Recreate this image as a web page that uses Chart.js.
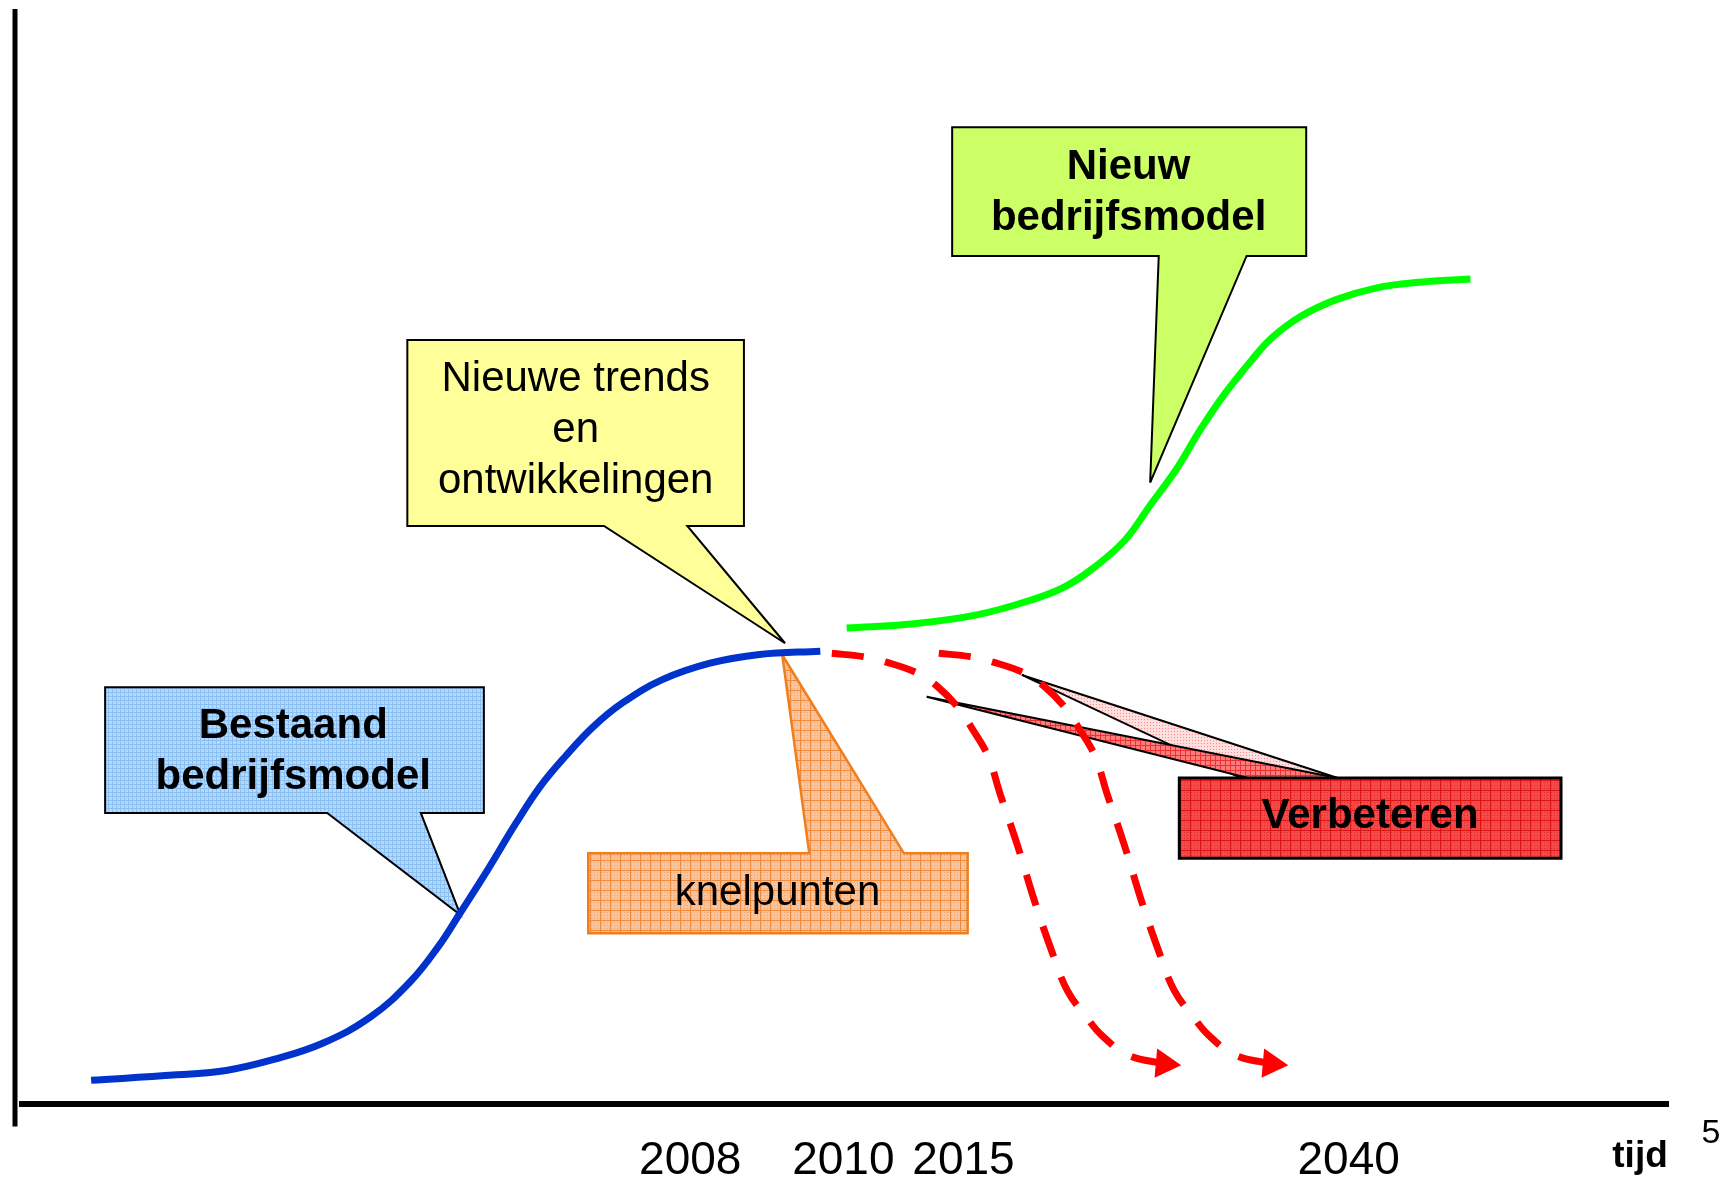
<!DOCTYPE html>
<html lang="nl">
<head>
<meta charset="utf-8">
<title>Bestaand en nieuw bedrijfsmodel</title>
<script src="https://cdn.jsdelivr.net/npm/chart.js@4.4.1/dist/chart.umd.min.js"></script>
<style>
  html, body { margin: 0; padding: 0; background: #fff; }
  #wrap { position: relative; width: 1734px; height: 1180px; }
</style>
</head>
<body>
<div id="wrap"><canvas id="grafiek"></canvas></div>
<script>
// === DATA (tijd 0-100, niveau 0-100) ===
const blauwX = [4.2, 9.4, 12.4, 15.3, 18.3, 21.2, 23.6, 25.3, 26.6, 28.3, 30.0, 31.5, 33.0, 34.7, 36.5, 38.9, 41.8, 44.8, 48.5];
const blauwY = [2.4, 2.9, 3.3, 4.3, 5.8, 8.2, 11.4, 14.6, 17.6, 21.6, 25.8, 29.2, 31.9, 34.6, 36.8, 38.9, 40.4, 41.2, 41.5];

const groenX = [50.1, 54.2, 58.0, 61.4, 63.4, 65.2, 67.0, 68.5, 70.1, 71.6, 73.1, 74.7, 75.9, 77.7, 79.8, 82.3, 84.9, 88.0];
const groenY = [43.6, 44.0, 44.8, 46.2, 47.4, 49.2, 51.6, 54.7, 58.0, 61.7, 65.0, 68.0, 70.0, 72.0, 73.5, 74.6, 75.1, 75.4];

const rood1X = [49.2, 51.1, 52.5, 54.4, 55.6, 56.9, 57.7, 58.7, 59.4, 60.5, 61.5, 62.6, 63.5, 64.7, 65.6, 67.2, 69.4];
const rood1Y = [41.3, 41.0, 40.5, 39.5, 38.3, 36.3, 34.5, 31.9, 28.6, 23.7, 18.8, 14.0, 10.6, 8.1, 6.5, 4.7, 3.9];

const rood2X = [55.7, 57.6, 59.0, 60.9, 62.1, 63.4, 64.2, 65.2, 65.9, 67.0, 68.0, 69.1, 70.0, 71.2, 72.1, 73.7, 75.9];
const rood2Y = [41.3, 41.0, 40.5, 39.5, 38.3, 36.3, 34.5, 31.9, 28.6, 23.7, 18.8, 14.0, 10.6, 8.1, 6.5, 4.7, 3.9];

// tijd-as: waarden en labels
const tickWaarden = [40.6, 49.9, 57.2, 80.6, 98.3];
const tickLabels = ['2008', '2010', '2015', '2040', 'tijd'];

const FONT = '"Liberation Sans", Arial, sans-serif';

// === TEKSTBALLONNEN (in as-eenheden) ===
const ballonnen = [
  { tekst: ['Bestaand', 'bedrijfsmodel'], vet: true, vak: [5.05, 38.21, 28.06, 26.76], kant: 'onder',
    voet: [18.54, 24.23], punt: [26.64, 17.46], tekstX: 16.48, regels: [33.56, 28.92],
    vulling: 'blauw', rand: '#000', dikte: 2 },
  { tekst: ['Nieuwe trends', 'en', 'ontwikkelingen'], vet: false, vak: [23.41, 69.85, 43.86, 52.90], kant: 'onder',
    voet: [35.36, 40.42], punt: [46.36, 42.22], tekstX: 33.64, regels: [65.20, 60.58, 55.94],
    vulling: '#ffff99', rand: '#000', dikte: 2 },
  { tekst: ['Nieuw', 'bedrijfsmodel'], vet: true, vak: [56.51, 89.22, 78.02, 77.50], kant: 'onder',
    voet: [69.06, 74.40], punt: [68.54, 56.85], tekstX: 67.23, regels: [84.49, 79.87],
    vulling: '#ccff66', rand: '#000', dikte: 2 },
  { tekst: ['knelpunten'], vet: false, vak: [34.40, 23.08, 57.45, 15.80], kant: 'boven',
    voet: [47.83, 53.58], punt: [46.19, 41.15], tekstX: 45.90, regels: [18.37],
    vulling: 'oranje', rand: '#f07e1d', dikte: 2.5 }
];

// Verbeteren: vak met twee punten
const verbeteren = {
  tekst: 'Verbeteren', vak: [70.31, 29.94, 93.50, 22.63], tekstX: 81.90, regel: 25.36,
  punten: [
    { punt: [60.74, 39.33], voet: [74.04, 79.93], vulling: 'lichtrood' },
    { punt: [54.96, 37.35], voet: [74.48, 79.93], vulling: 'donkerrood' }
  ]
};

// === PATRONEN (gerasterde vulling zoals in het origineel) ===
let patronen = null;
function maakPatroon(ctx, basis, lijn, cel, stip) {
  const c = document.createElement('canvas');
  c.width = cel; c.height = cel;
  const g = c.getContext('2d');
  g.fillStyle = basis;
  g.fillRect(0, 0, cel, cel);
  if (stip) {
    g.fillStyle = stip;
    for (let i = 1; i < cel; i += 3) {
      for (let j = 2; j < cel; j += 3) g.fillRect(i, j, 1, 1);
    }
  }
  if (lijn) {
    g.fillStyle = lijn;
    g.fillRect(0, 0, cel, 1);
    g.fillRect(0, 0, 1, cel);
  }
  return ctx.createPattern(c, 'repeat');
}
function vulling(naam) {
  return patronen[naam] || naam;
}

function tekenBallon(ctx, b, px, py) {
  const x0 = px(b.vak[0]), y0 = py(b.vak[1]), x1 = px(b.vak[2]), y1 = py(b.vak[3]);
  const v1 = px(b.voet[0]), v2 = px(b.voet[1]);
  const tx = px(b.punt[0]), ty = py(b.punt[1]);
  ctx.beginPath();
  if (b.kant === 'onder') {
    ctx.moveTo(x0, y0); ctx.lineTo(x1, y0); ctx.lineTo(x1, y1);
    ctx.lineTo(v2, y1); ctx.lineTo(tx, ty); ctx.lineTo(v1, y1);
    ctx.lineTo(x0, y1);
  } else {
    ctx.moveTo(x0, y0); ctx.lineTo(v1, y0); ctx.lineTo(tx, ty);
    ctx.lineTo(v2, y0); ctx.lineTo(x1, y0); ctx.lineTo(x1, y1);
    ctx.lineTo(x0, y1);
  }
  ctx.closePath();
  ctx.fillStyle = vulling(b.vulling);
  ctx.fill();
  ctx.lineWidth = b.dikte;
  ctx.strokeStyle = b.rand;
  ctx.stroke();

  ctx.fillStyle = '#000';
  ctx.font = (b.vet ? 'bold 42px ' : '42px ') + FONT;
  b.tekst.forEach((t, i) => ctx.fillText(t, px(b.tekstX), py(b.regels[i])));
}

const ballonPlugin = {
  id: 'ballonnen',
  beforeDatasetsDraw(chart) {
    const ctx = chart.ctx;
    const xs = chart.scales.x, ys = chart.scales.y;
    const px = v => xs.getPixelForValue(v);
    const py = v => ys.getPixelForValue(v);
    const area = chart.chartArea;

    if (!patronen) {
      patronen = {
        blauw: maakPatroon(ctx, '#b2d9ff', '#8cc0f2', 4),
        oranje: maakPatroon(ctx, '#f9c49c', '#ef8a3c', 10, '#f3a56d'),
        rood: maakPatroon(ctx, '#f54a4a', '#d81414', 10, '#e82a2a'),
        donkerrood: maakPatroon(ctx, '#ff7c7c', '#ee3030', 5),
        lichtrood: maakPatroon(ctx, '#ffdede', null, 6, '#ff8c8c')
      };
    }

    ctx.save();
    // verticale as: van niveau 100 tot iets onder de tijd-as
    ctx.strokeStyle = '#000';
    ctx.lineWidth = 5;
    ctx.beginPath();
    ctx.moveTo(area.left - 7, py(100));
    ctx.lineTo(area.left - 7, area.bottom + 23);
    ctx.stroke();

    ctx.lineJoin = 'miter';
    ctx.miterLimit = 4;
    ctx.textAlign = 'center';
    ctx.textBaseline = 'alphabetic';
    ballonnen.forEach(b => tekenBallon(ctx, b, px, py));

    // Verbeteren: eerst de twee punten, dan het vak
    const v = verbeteren;
    const bx0 = px(v.vak[0]), by0 = py(v.vak[1]), bx1 = px(v.vak[2]), by1 = py(v.vak[3]);
    v.punten.forEach(p => {
      ctx.beginPath();
      ctx.moveTo(px(p.punt[0]), py(p.punt[1]));
      ctx.lineTo(px(p.voet[1]), by0);
      ctx.lineTo(px(p.voet[0]), by0);
      ctx.closePath();
      ctx.fillStyle = vulling(p.vulling);
      ctx.fill();
      ctx.lineWidth = 2;
      ctx.strokeStyle = '#000';
      ctx.stroke();
    });
    ctx.beginPath();
    ctx.rect(bx0, by0, bx1 - bx0, by1 - by0);
    ctx.fillStyle = vulling('rood');
    ctx.fill();
    ctx.lineWidth = 3;
    ctx.strokeStyle = '#000';
    ctx.stroke();
    ctx.fillStyle = '#000';
    ctx.font = 'bold 42px ' + FONT;
    ctx.fillText(v.tekst, px(v.tekstX), py(v.regel));
    ctx.restore();
  },
  afterDraw(chart) {
    // paginanummer rechtsonder
    const ctx = chart.ctx;
    ctx.save();
    ctx.fillStyle = '#000';
    ctx.font = '34px ' + FONT;
    ctx.textAlign = 'center';
    ctx.textBaseline = 'alphabetic';
    ctx.fillText('5', chart.width - 23, chart.height - 37);
    ctx.restore();
  }
};

const punten = (xs, ys) => xs.map((x, i) => ({ x: x, y: ys[i] }));

function pijlStraal(lengte) {
  return ctx => ctx.dataIndex === lengte - 1 ? 17 : 0;
}

function rodeLijn(xs, ys) {
  return {
    data: punten(xs, ys),
    borderColor: '#ff0000',
    borderWidth: 7,
    borderDash: [32, 22],
    tension: 0.4,
    pointStyle: 'triangle',
    pointRotation: 95,
    pointRadius: pijlStraal(xs.length),
    pointHoverRadius: pijlStraal(xs.length),
    pointBackgroundColor: '#ff0000',
    pointBorderWidth: 0,
    fill: false
  };
}

new Chart(document.getElementById('grafiek'), {
  type: 'line',
  data: {
    datasets: [
      {
        data: punten(blauwX, blauwY),
        borderColor: '#0033cc',
        borderWidth: 7,
        tension: 0.4,
        pointRadius: 0,
        fill: false
      },
      {
        data: punten(groenX, groenY),
        borderColor: '#00ff00',
        borderWidth: 7,
        tension: 0.4,
        pointRadius: 0,
        fill: false
      },
      rodeLijn(rood1X, rood1Y),
      rodeLijn(rood2X, rood2Y)
    ]
  },
  options: {
    responsive: true,
    maintainAspectRatio: false,
    animation: false,
    events: [],
    devicePixelRatio: 1,
    // de tick-padding telt dubbel in de ashoogte; negatieve onderrand compenseert dat
    layout: { padding: { left: 22, right: 66, top: 9, bottom: -39.3 } },
    plugins: { legend: { display: false }, tooltip: { enabled: false } },
    scales: {
      x: {
        type: 'linear',
        min: 0,
        max: 100,
        grid: { display: false, drawTicks: false },
        border: { display: true, color: '#000', width: 6 },
        afterBuildTicks: axis => { axis.ticks = tickWaarden.map(v => ({ value: v })); },
        ticks: {
          autoSkip: false,
          maxRotation: 0,
          padding: 34.9,
          color: '#000',
          font: c => c.index === tickLabels.length - 1
            ? { family: FONT, size: 37, weight: 'bold', lineHeight: 1 }
            : { family: FONT, size: 46, lineHeight: 1 },
          callback: (value, index) => tickLabels[index]
        }
      },
      y: {
        type: 'linear',
        display: false,
        // het tekengebied begint iets onder niveau 100 en eindigt net boven niveau 0
        min: 0.29,
        max: 99.27
      }
    }
  },
  plugins: [ballonPlugin]
});
</script>
</body>
</html>
